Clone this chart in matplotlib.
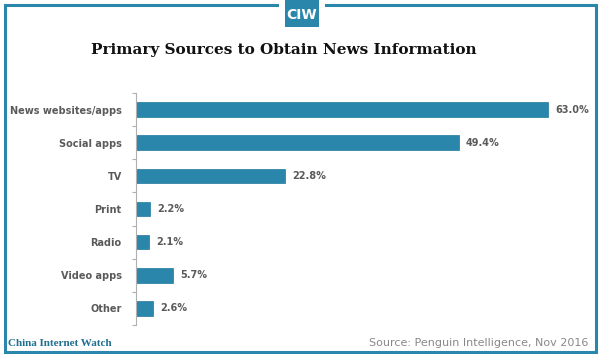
import matplotlib
matplotlib.use("Agg")
import matplotlib.pyplot as plt
from matplotlib.patches import Rectangle
import numpy as np

categories = ["News websites/apps", "Social apps", "TV", "Print", "Radio", "Video apps", "Other"]
values = [63.0, 49.4, 22.8, 2.2, 2.1, 5.7, 2.6]

teal = "#2a87ab"
gray = "#5a5a5a"

fig = plt.figure(figsize=(6.0, 3.56), dpi=100)
fig.patch.set_facecolor("white")

ax = fig.add_axes([0.226, 0.0871, 0.785, 0.6517])
y = np.arange(len(categories))
ax.barh(y, values, height=0.44, color=teal, edgecolor="#1f7a9c", linewidth=0.5)
ax.set_ylim(len(categories) - 0.5, -0.5)
ax.set_xlim(0, 72)
for s in ["top", "right", "bottom"]:
    ax.spines[s].set_visible(False)
ax.spines["left"].set_color("#b0b0b0")
ax.spines["left"].set_linewidth(0.8)
ax.set_xticks([])
ax.set_yticks(y)
ax.set_yticklabels(categories, fontsize=7, fontweight="bold", color=gray, family="DejaVu Sans")
ax.tick_params(axis="y", which="major", length=0, pad=10)
ax.set_yticks(np.arange(-0.5, len(categories), 1.0), minor=True)
ax.tick_params(axis="y", which="minor", length=3, color="#b0b0b0", width=0.8)
for yi, v in zip(y, values):
    ax.text(v + 1.1, yi, f"{v:.1f}%", va="center", ha="left", fontsize=7,
            fontweight="bold", color=gray, family="DejaVu Sans")

fig.text(283.5/600, 1 - 50/356, "Primary Sources to Obtain News Information", ha="center", va="center",
         fontsize=11, fontweight="bold", family="DejaVu Serif", color="#111111")

fig.text(0.014, 0.036, "China Internet Watch", ha="left", va="center",
         fontsize=8, fontweight="bold", family="Liberation Serif", color="#1f6f8f")
fig.text(0.98, 0.036, "Source: Penguin Intelligence, Nov 2016", ha="right", va="center",
         fontsize=8, family="DejaVu Sans", color="#888888")

# border
fig.patches.append(Rectangle((4.5/600, 4.5/356), 591/600, 347/356, transform=fig.transFigure,
                             fill=False, edgecolor=teal, linewidth=2.2))
# logo
fig.patches.append(Rectangle((279/600, 1 - 12/356), 46/600, 12/356, transform=fig.transFigure,
                             facecolor="white", edgecolor="none", zorder=3))
fig.patches.append(Rectangle((285/600, 1 - 27/356), 34/600, 27/356, transform=fig.transFigure,
                             facecolor=teal, edgecolor="none", zorder=4))
fig.text(302/600, 1 - 15/356, "CIW", ha="center", va="center", fontsize=10, fontweight="bold",
         color="white", family="DejaVu Sans", zorder=5)

fig.savefig("out.png", dpi=100, facecolor="white")
